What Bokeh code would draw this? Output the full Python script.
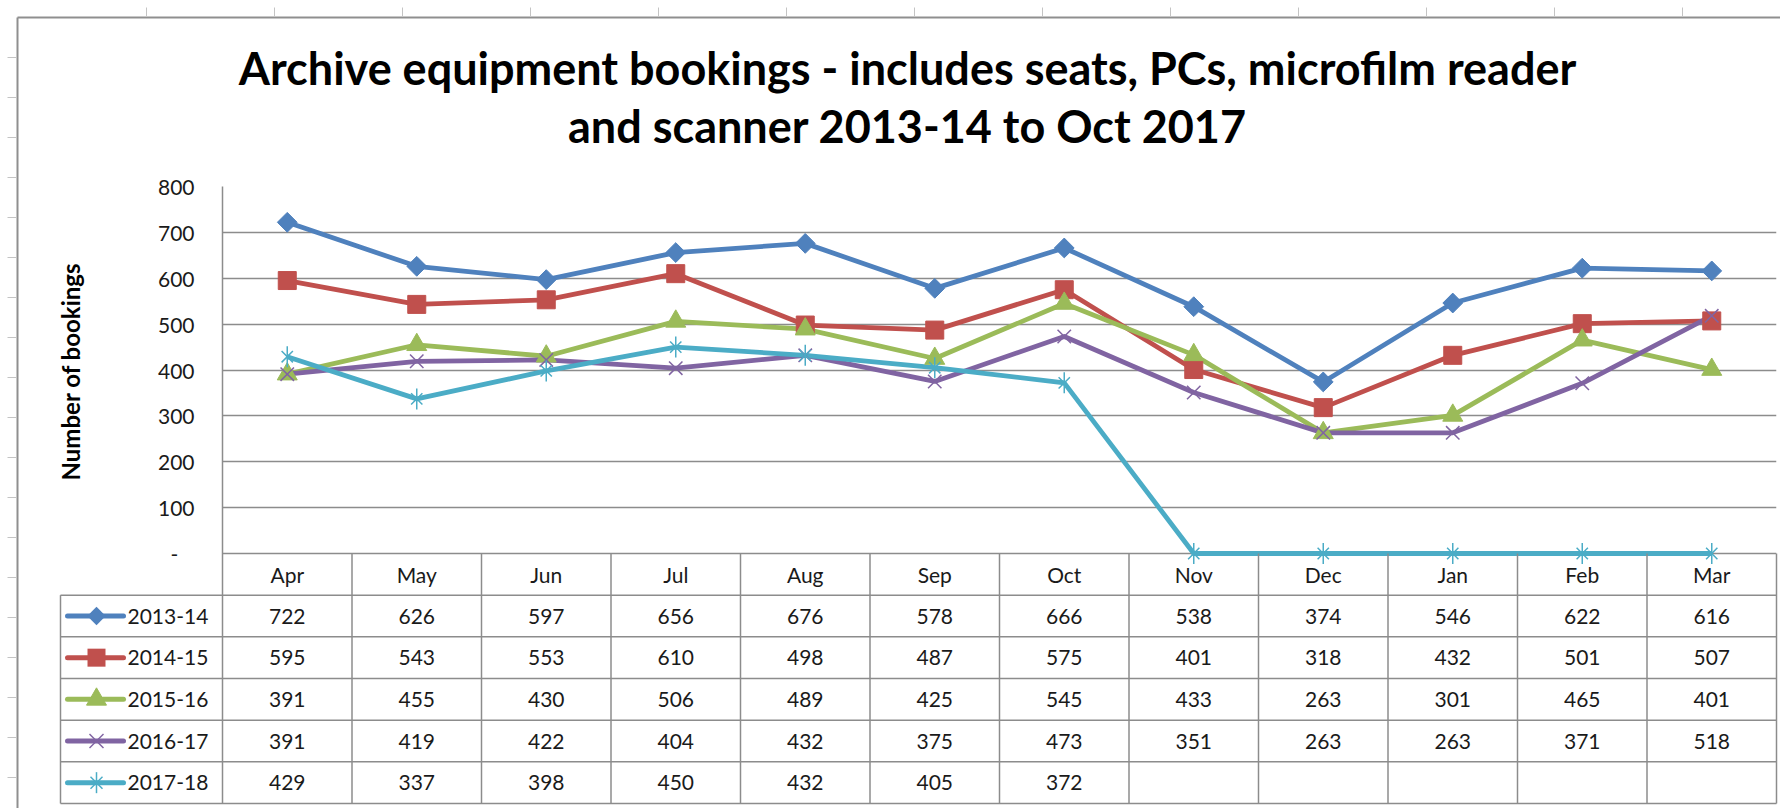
import math
from bokeh.plotting import figure
from bokeh.models import Range1d, FixedTicker
from bokeh.embed import file_html
from bokeh.resources import INLINE
from bokeh.core.properties import value

# ---------------- data ----------------
months = ["Apr", "May", "Jun", "Jul", "Aug", "Sep", "Oct", "Nov", "Dec", "Jan", "Feb", "Mar"]
series_names = ["2013-14", "2014-15", "2015-16", "2016-17", "2017-18"]
v_2013_14 = [722, 626, 597, 656, 676, 578, 666, 538, 374, 546, 622, 616]
v_2014_15 = [595, 543, 553, 610, 498, 487, 575, 401, 318, 432, 501, 507]
v_2015_16 = [391, 455, 430, 506, 489, 425, 545, 433, 263, 301, 465, 401]
v_2016_17 = [391, 419, 422, 404, 432, 375, 473, 351, 263, 263, 371, 518]
v_2017_18 = [429, 337, 398, 450, 432, 405, 372, None, None, None, None, None]
y_ticks = [0, 100, 200, 300, 400, 500, 600, 700, 800]
y_tick_labels = ["-", "100", "200", "300", "400", "500", "600", "700", "800"]
title_lines = ["Archive equipment bookings - includes seats, PCs, microfilm reader",
               "and scanner 2013-14 to Oct 2017"]
y_title = "Number of bookings"

series_values = [v_2013_14, v_2014_15, v_2015_16, v_2016_17, v_2017_18]

# ---------------- styles / layout ----------------
colors = ["#4F81BD", "#C0504D", "#9BBB59", "#8064A2", "#4BACC6"]
FONT = "Lato"
TXT = "#1a1a1a"
GRID = "#8c8c8c"

W, H = 1780, 808
FR_L, FR_R, FR_T, FR_B = 222, W - 1776, 186, H - 803   # canvas borders around frame
N_ROWS = 6
FRAME_H = H - FR_T - FR_B
KY = 367.0 / 800.0                    # px per y unit in the plot part
RH = (FRAME_H - 367.0) / N_ROWS / KY  # table row height in y units
Y_MIN = -N_ROWS * RH
KX = (W - FR_L - FR_R) / 12.0
Y0 = FR_T + 800 * KY                  # canvas y of value 0


def px2x(px):
    return (px - FR_L) / KX


def px2y(py):
    return (Y0 - py) / KY


p = figure(width=W, height=H, x_range=Range1d(0, 12), y_range=Range1d(Y_MIN, 800),
           output_backend="svg", toolbar_location=None, x_axis_location=None,
           min_border_left=FR_L, min_border_right=FR_R, min_border_top=FR_T,
           min_border_bottom=FR_B)
p.outline_line_color = None
p.background_fill_color = "white"
p.border_fill_color = "white"
p.xgrid.visible = False

# y axis
p.yaxis.ticker = FixedTicker(ticks=y_ticks)
p.yaxis.major_label_overrides = {t: (l if l != "-" else "-\u00a0\u00a0\u00a0") for t, l in zip(y_ticks, y_tick_labels)}
p.yaxis.axis_line_color = GRID
p.yaxis.axis_line_width = 1.5
p.yaxis.major_tick_line_color = None
p.yaxis.minor_tick_line_color = None
p.yaxis.major_tick_out = 0
p.yaxis.major_tick_in = 0
p.yaxis.major_label_standoff = 28
p.yaxis.major_label_text_font = FONT
p.yaxis.major_label_text_font_size = "21px"
p.yaxis.major_label_text_color = TXT
p.ygrid.ticker = FixedTicker(ticks=y_ticks)
p.ygrid.grid_line_color = GRID
p.ygrid.grid_line_width = 1.5

# ---------------- decorations: chart border and sheet ticks ----------------
p.segment(x0=[px2x(17), px2x(17)], y0=[px2y(17), px2y(17)],
          x1=[px2x(17), px2x(1790)], y1=[px2y(815), px2y(17)],
          line_color="#8f8f8f", line_width=2, level="overlay")
lt = list(range(57, 811, 40))
p.segment(x0=[px2x(7)] * len(lt), y0=[px2y(v) for v in lt], x1=[px2x(16)] * len(lt),
          y1=[px2y(v) for v in lt], line_color="#c4c4c4", line_width=1, level="overlay")
tt = list(range(146, 1785, 128))
p.segment(x0=[px2x(v) for v in tt], y0=[px2y(7)] * len(tt), x1=[px2x(v) for v in tt],
          y1=[px2y(16)] * len(tt), line_color="#c4c4c4", line_width=1, level="overlay")

# ---------------- table grid ----------------
LEG_L = px2x(60)
xs = [float(i) for i in range(1, 13)]
p.segment(x0=xs, y0=[0] * len(xs), x1=xs, y1=[Y_MIN] * len(xs),
          line_color=GRID, line_width=1.5, level="overlay")
hy = [-RH * j for j in range(1, N_ROWS + 1)]
p.segment(x0=[LEG_L] * len(hy), y0=hy, x1=[12] * len(hy), y1=hy,
          line_color=GRID, line_width=1.5, level="overlay")
p.segment(x0=[LEG_L], y0=[-RH], x1=[LEG_L], y1=[Y_MIN],
          line_color=GRID, line_width=1.5, level="overlay")

# header months
p.text(x=[i + 0.5 for i in range(12)], y=[-0.5 * RH] * 12, text=months,
       text_font=value(FONT), text_font_size="21px", text_color=TXT,
       text_align="center", text_baseline="middle", level="overlay")

# ---------------- series ----------------
cx = [i + 0.5 for i in range(12)]
LEG_X0, LEG_X1, LEG_XM, LEG_TX = px2x(67), px2x(123), px2x(96), px2x(127)


def chart_marker(k, xv, yv):
    c = colors[k]
    if k == 0:
        p.scatter(xv, yv, marker="square", angle=math.pi / 4, size=14,
                  fill_color=c, line_color=c, level="overlay")
    elif k == 1:
        p.scatter(xv, yv, marker="square", size=18, fill_color=c, line_color=c, level="overlay")
    elif k == 2:
        p.scatter(xv, yv, marker="triangle", size=20, fill_color=c, line_color=c, level="overlay")
    elif k == 3:
        p.scatter(xv, yv, marker="x", size=19, line_color=c, line_width=1.5, level="overlay")
    else:
        p.scatter(xv, yv, marker="x", size=16, line_color=c, line_width=1.5, level="overlay")
        p.scatter(xv, yv, marker="dash", angle=math.pi / 2, size=21, line_color=c,
                  line_width=1.5, level="overlay")


def key_marker(k, mx, my):
    # legend-key symbol drawn outside the frame (scatter markers would be culled there)
    c = colors[k]
    ux, uy = 1.0 / KX, 1.0 / KY
    if k == 0:
        a = 13 / (2 * math.sqrt(2))
        p.segment(x0=[mx - a * ux], y0=[my - a * uy], x1=[mx + a * ux], y1=[my + a * uy],
                  line_color=c, line_width=13, line_cap="butt", level="overlay")
    elif k == 1:
        p.segment(x0=[mx - 9 * ux], y0=[my], x1=[mx + 9 * ux], y1=[my],
                  line_color=c, line_width=18, line_cap="butt", level="overlay")
    elif k == 2:
        p.patch(x=[mx - 10 * ux, mx + 10 * ux, mx], y=[my - 5.8 * uy, my - 5.8 * uy, my + 11.5 * uy],
                fill_color=c, line_color=c, level="overlay")
    elif k == 3:
        d = 7
        p.segment(x0=[mx - d * ux, mx - d * ux], y0=[my - d * uy, my + d * uy],
                  x1=[mx + d * ux, mx + d * ux], y1=[my + d * uy, my - d * uy],
                  line_color=c, line_width=1.5, level="overlay")
    else:
        d = 6
        p.segment(x0=[mx - d * ux, mx - d * ux, mx], y0=[my - d * uy, my + d * uy, my - 10.5 * uy],
                  x1=[mx + d * ux, mx + d * ux, mx], y1=[my + d * uy, my - d * uy, my + 10.5 * uy],
                  line_color=c, line_width=1.5, level="overlay")


for k, (name, vals) in enumerate(zip(series_names, series_values)):
    plotted = [v if v is not None else 0 for v in vals]
    p.line(cx, plotted, line_color=colors[k], line_width=4.8, line_join="round")
    chart_marker(k, cx, plotted)

    # table row
    ry = -(k + 1.5) * RH
    tx = [x for x, v in zip(cx, vals) if v is not None]
    tv = [str(v) for v in vals if v is not None]
    p.text(x=tx, y=[ry] * len(tx), text=tv, text_font=value(FONT), text_font_size="21px",
           text_color=TXT, text_align="center", text_baseline="middle", level="overlay")
    # legend key
    p.segment(x0=[LEG_X0], y0=[ry], x1=[LEG_X1], y1=[ry], line_color=colors[k],
              line_width=5, line_cap="round", level="overlay")
    key_marker(k, LEG_XM, ry)
    p.text(x=[LEG_TX], y=[ry], text=[name], text_font=value(FONT), text_font_size="21px",
           text_color=TXT, text_align="left", text_baseline="middle", level="overlay")

# ---------------- titles ----------------
p.text(x=[px2x(907)] * 2, y=[px2y(67), px2y(125)], text=title_lines,
       text_font=value(FONT), text_font_size="45px", text_font_style="bold",
       text_color="#000000", text_align="center", text_baseline="middle", level="overlay")

p.text(x=[px2x(70)], y=[px2y(371)], text=[y_title], angle=math.pi / 2,
       text_font=value(FONT), text_font_size="24px", text_font_style="bold",
       text_color="#000000", text_align="center", text_baseline="middle", level="overlay")

open("out.html", "w").write(file_html(p, INLINE))
